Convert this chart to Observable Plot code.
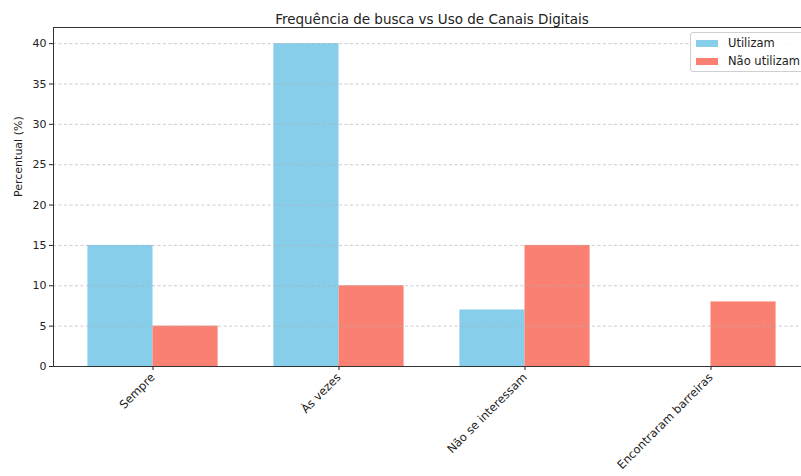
<!DOCTYPE html>
<html>
<head>
<meta charset="utf-8">
<script src="https://cdn.jsdelivr.net/npm/d3@7"></script>
<script src="https://cdn.jsdelivr.net/npm/@observablehq/plot@0.6"></script>
<style>
  html, body { margin: 0; padding: 0; background: #fff; }
  #wrap { position: relative; width: 801px; height: 476px; overflow: hidden; font-family: "DejaVu Sans", sans-serif; }
  #wrap svg { max-width: none !important; }
  #legend { position: absolute; left: 690px; top: 32px; width: 130px; height: 38px; border: 1px solid #d0d0d0; border-radius: 3px; background: rgba(255,255,255,0.85); font-size: 11.5px; color: #222; }
  .item { position: absolute; left: 5px; height: 14px; line-height: 14px; }
  .sw { position: absolute; left: 0; top: 4px; width: 22px; height: 7px; }
  .lab { position: absolute; left: 32px; top: 0; white-space: nowrap; }
</style>
</head>
<body>
<div id="wrap"></div>
<script>
const categories = ["Sempre", "Às vezes", "Não se interessam", "Encontraram barreiras"];
const utilizam = [15, 40, 7, 0];
const naoUtilizam = [5, 10, 15, 8];
const seriesNames = ["Utilizam", "Não utilizam"];
const seriesColors = ["#87CEEB", "#FA8072"];
const yTicks = [0, 5, 10, 15, 20, 25, 30, 35, 40];
const title = "Frequência de busca vs Uso de Canais Digitais";
const yLabel = "Percentual (%)";

const barWidth = 0.35;
const rows = [];
categories.forEach((c, i) => {
  [utilizam, naoUtilizam].forEach((vals, j) => {
    rows.push({
      cat: c,
      series: seriesNames[j],
      value: vals[i],
      x1: i + (j === 0 ? -barWidth : 0),
      x2: i + (j === 0 ? 0 : barWidth)
    });
  });
});
const idx = categories.map((_, i) => i);

const chart = Plot.plot({
  width: 812,
  height: 476,
  marginTop: 27,
  marginBottom: 110,
  marginLeft: 53,
  marginRight: 2,
  style: { fontFamily: "DejaVu Sans, sans-serif", fontSize: "11px", color: "#222", background: "#fff", maxWidth: "none" },
  x: { domain: [-0.535, 3.535] },
  y: { domain: [0, 42] },
  color: { domain: seriesNames, range: seriesColors },
  marks: [
    Plot.rect(rows, { x1: "x1", x2: "x2", y1: 0, y2: "value", fill: "series" }),
    Plot.gridY(yTicks, { stroke: "#b0b0b0", strokeOpacity: 0.8, strokeDasharray: "3,2.5", strokeWidth: 0.8 }),
    Plot.axisX(idx, { tickFormat: i => categories[i], tickRotate: -45, tickSize: 4, tickPadding: 5, label: null, fontSize: 11.5 }),
    Plot.axisY(yTicks, { tickSize: 4, tickPadding: 3, label: null, fontSize: 11 }),
    Plot.frame({ stroke: "#333", strokeWidth: 1 }),
    Plot.text([title], { frameAnchor: "top", dy: -13, fontSize: 13.5, fill: "#222" }),
    Plot.text([yLabel], { frameAnchor: "left", dx: -35, rotate: -90, fontSize: 11, fill: "#222" })
  ]
});
const wrap = document.getElementById("wrap");
wrap.appendChild(chart);

const legend = document.createElement("div");
legend.id = "legend";
seriesNames.forEach((s, j) => {
  const it = document.createElement("div");
  it.className = "item";
  it.style.top = (3 + j * 18) + "px";
  it.innerHTML = `<span class="sw" style="background:${seriesColors[j]}"></span><span class="lab">${s}</span>`;
  legend.appendChild(it);
});
wrap.appendChild(legend);
</script>
</body>
</html>
